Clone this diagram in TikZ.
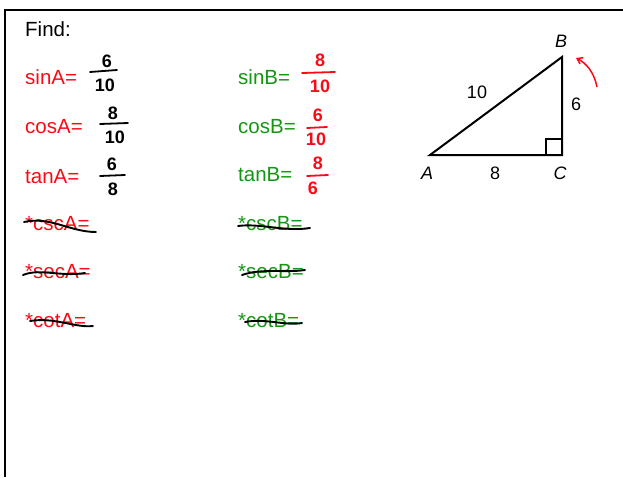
\documentclass[tikz,border=0pt]{standalone}
\usepackage{fontspec}
\setmainfont{Liberation Sans}
\usetikzlibrary{arrows.meta}
\definecolor{tred}{RGB}{250,10,20}
\definecolor{tgreen}{RGB}{20,150,20}
\begin{document}
\begin{tikzpicture}[x=1pt,y=-1pt,
  lab/.style={anchor=west,inner sep=0pt,font=\fontsize{20.5}{24}\selectfont},
  dig/.style={inner sep=0pt,font=\fontsize{18}{20}\selectfont\bfseries},
  tri/.style={inner sep=0pt,font=\fontsize{18}{20}\selectfont},
  trii/.style={inner sep=0pt,font=\fontsize{18}{20}\selectfont\itshape},
  bar/.style={line width=1.8pt,line cap=round},
  strike/.style={black,line width=1.9pt,line cap=round}]
\useasboundingbox (0,0) rectangle (623,477);
\draw[line width=2.5pt] (5,477) -- (5,10) -- (623,10);
% labels
\node[lab] (find) at (25,29) {Find:};
\node[lab,tred] (sinA) at (25,77) {sinA=};
\node[lab,tred] (cosA) at (25,127) {cosA=};
\node[lab,tred] (tanA) at (25,177) {tanA=};
\node[lab,tred] (cscA) at (25,224) {*cscA=};
\node[lab,tred] (secA) at (25,272) {*secA=};
\node[lab,tred] (cotA) at (25,321) {*cotA=};
\node[lab,tgreen] (sinB) at (238,77) {sinB=};
\node[lab,tgreen] (cosB) at (238,127) {cosB=};
\node[lab,tgreen] (tanB) at (238,175) {tanB=};
\node[lab,tgreen] (cscB) at (238,224) {*cscB=};
\node[lab,tgreen] (secB) at (238,272) {*secB=};
\node[lab,tgreen] (cotB) at (238,321) {*cotB=};
% fractions A (black)
\node[dig] (n1) at (107,61) {6};
\draw[bar] (90,72) -- (117,70);
\node[dig] (d1) at (105,85) {10};
\node[dig] (n2) at (113,113) {8};
\draw[bar] (100,124) -- (128,123);
\node[dig] (d2) at (115,137) {10};
\node[dig] (n3) at (112,164) {6};
\draw[bar] (100,176) -- (125,175);
\node[dig] (d3) at (113,189) {8};
% fractions B (red)
\node[dig,tred] (n4) at (320,60) {8};
\draw[bar,tred] (302,73) -- (335,72);
\node[dig,tred] (d4) at (320,86) {10};
\node[dig,tred] (n5) at (318,115) {6};
\draw[bar,tred] (307,128) -- (327,127);
\node[dig,tred] (d5) at (316,139) {10};
\node[dig,tred] (n6) at (318,163) {8};
\draw[bar,tred] (307,176) -- (328,175);
\node[dig,tred] (d6) at (313,188) {6};
% strike-throughs
\draw[strike] (24,222) .. controls (50,216) and (70,232) .. (96,232);
\draw[strike] (23,275) .. controls (40,268) and (60,277) .. (85,273);
\draw[strike] (30,321) .. controls (55,317) and (75,328) .. (93,326);
\draw[strike] (238,226) .. controls (260,223) and (285,232) .. (310,228);
\draw[strike] (242,275) .. controls (262,268) and (285,273) .. (305,270);
\draw[strike] (245,322) .. controls (265,318) and (285,326) .. (302,323);
% triangle
\coordinate (A) at (430,155);
\coordinate (C) at (562,155);
\coordinate (B) at (562,57);
\draw[line width=2pt,line join=miter] (A) -- (C) -- (B) -- cycle;
\draw[line width=1.1pt] (546,155) -- (546,139) -- (562,139);
\node[trii] (lB) at (561,41) {B};
\node[trii] (lA) at (427,173) {A};
\node[trii] (lC) at (560,173) {C};
\node[tri] (l8) at (495,173) {8};
\node[tri] (l6) at (576,104) {6};
\node[tri] (l10) at (477,92) {10};
% red arrow
\coordinate (as) at (597,87);
\coordinate (ae) at (576,58);
\draw[tred,line width=1.5pt,-{Straight Barb[length=5pt,width=7pt]}] (as) .. controls (594,72) and (586,63) .. (ae);
\end{tikzpicture}
\end{document}
